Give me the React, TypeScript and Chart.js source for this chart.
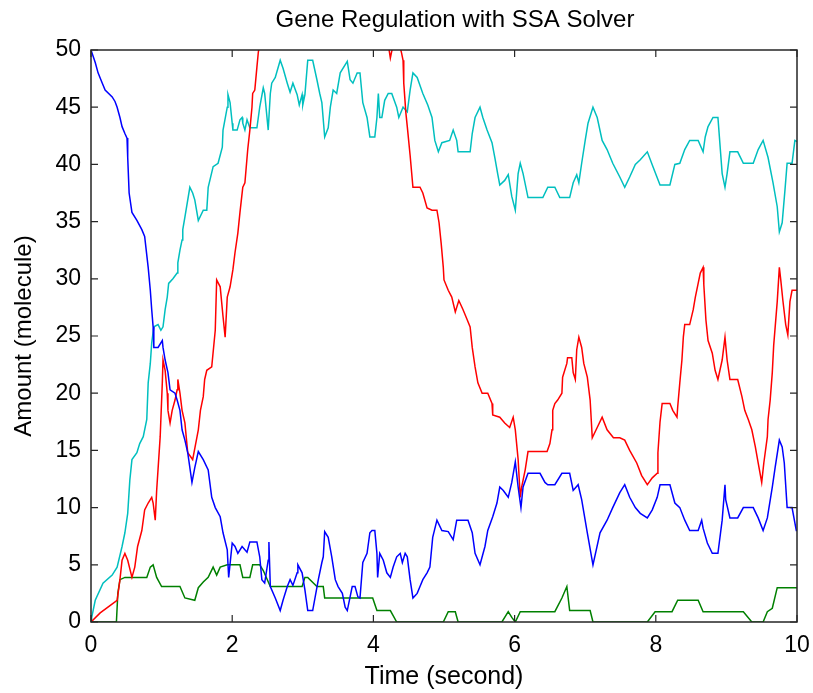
import React, { useEffect, useRef } from 'react';
import { Chart, registerables } from 'chart.js';
Chart.register(...registerables);

const TITLE = 'Gene Regulation with SSA Solver';
const X_LABEL = 'Time (second)';
const Y_LABEL = 'Amount (molecule)';
const X_TICKS = [0, 2, 4, 6, 8, 10];
const Y_TICKS = [0, 5, 10, 15, 20, 25, 30, 35, 40, 45, 50];

// [time, amount]
const blueSeries: number[][] = [
  [0,50],[0.06,48.9],[0.10,48],[0.16,47.1],[0.20,46.5],[0.30,45.9],[0.34,45.5],[0.37,45],[0.41,44.1],[0.44,43.3],
  [0.48,42.7],[0.51,42.3],[0.52,40.6],[0.54,37.5],[0.58,35.8],[0.65,35.1],[0.72,34.3],[0.76,33.7],[0.81,31],[0.84,29],
  [0.86,27.3],[0.88,25.8],[0.89,24],[0.95,24],[1.01,24.6],[1.02,24],[1.05,22.9],[1.09,21.8],[1.12,20.3],[1.19,20],
  [1.22,19.4],[1.26,18.5],[1.29,16.8],[1.33,15.9],[1.37,14.8],[1.43,12.2],[1.47,13.5],[1.52,14.9],[1.59,14.2],[1.66,13.3],
  [1.71,10.9],[1.76,10],[1.83,9.2],[1.87,7.8],[1.93,6.3],[1.95,3.9],[2.00,6.9],[2.04,6.6],[2.08,6],[2.14,6.6],
  [2.21,6.1],[2.25,7],[2.35,7],[2.39,5.7],[2.42,3.7],[2.46,3.4],[2.51,5.4],[2.52,7],[2.54,3.1],[2.61,2.1],
  [2.68,1],[2.72,1.9],[2.78,3.1],[2.82,3.7],[2.86,3.2],[2.92,4.3],[2.93,5],[2.99,4.3],[3.03,2.8],[3.07,1],
  [3.14,1],[3.22,3.7],[3.27,5.2],[3.29,5.7],[3.31,7.9],[3.36,7.4],[3.41,5.7],[3.46,3.7],[3.50,3.1],[3.56,2.5],
  [3.60,1.3],[3.63,1],[3.67,2.2],[3.70,3.1],[3.74,3.1],[3.78,2.2],[3.81,2.1],[3.85,5.2],[3.91,6],[3.95,7.8],
  [3.98,8],[4.02,8],[4.05,6],[4.06,3.9],[4.09,6],[4.14,5.4],[4.19,4.3],[4.24,3.9],[4.28,4.8],[4.33,5.7],
  [4.38,6],[4.41,5.2],[4.45,6],[4.48,5.7],[4.52,3.7],[4.56,2.1],[4.62,2.5],[4.66,3.1],[4.70,3.7],[4.76,4.3],
  [4.80,4.8],[4.84,7.4],[4.90,8.9],[4.97,8],[5.06,7.9],[5.13,7.2],[5.18,8.9],[5.34,8.9],[5.40,7.8],[5.44,6],
  [5.51,5],[5.58,6.6],[5.62,8],[5.69,9.2],[5.75,10.4],[5.79,11.8],[5.84,11.5],[5.91,10.9],[5.96,12.2],[6.01,14],
  [6.05,11.8],[6.09,10],[6.12,11.8],[6.19,13],[6.36,13],[6.43,12.2],[6.47,12],[6.57,12],[6.67,13],[6.78,13],
  [6.83,11.5],[6.90,12],[6.95,10.7],[7.03,7.8],[7.11,5],[7.21,7.8],[7.31,8.9],[7.39,10],[7.49,11.3],[7.56,12],
  [7.63,10.9],[7.71,10],[7.78,9.5],[7.88,9.1],[7.95,9.8],[8.02,10.9],[8.06,12],[8.20,12],[8.27,10.4],[8.34,10],
  [8.41,8.9],[8.48,8],[8.60,8],[8.65,8.9],[8.67,8.2],[8.73,6.9],[8.80,6],[8.88,6],[8.94,8.9],[8.98,12],
  [8.99,10.7],[9.05,9.1],[9.16,9.1],[9.24,10],[9.38,10],[9.45,9.1],[9.52,8],[9.58,9.1],[9.65,11.8],[9.69,13.5],
  [9.75,15.9],[9.79,15.3],[9.82,13.9],[9.86,10],[9.93,10],[9.99,8],[10,8]
];

const redSeries: number[][] = [
  [0,0],[0.13,0.8],[0.24,1.3],[0.37,1.9],[0.41,3.7],[0.44,5.4],[0.48,6],[0.52,5.4],[0.58,3.9],[0.62,4.8],
  [0.66,6.6],[0.72,8],[0.76,9.8],[0.81,10.4],[0.84,10.7],[0.86,10.9],[0.88,10.4],[0.91,8.9],[0.93,11.5],[0.98,16.2],
  [1.01,20.9],[1.02,22.9],[1.05,22],[1.08,20],[1.09,18.5],[1.12,17.4],[1.15,18.5],[1.19,19.4],[1.22,20.3],[1.23,21.2],
  [1.26,20],[1.29,18.5],[1.33,17.4],[1.37,14.8],[1.44,14.2],[1.52,16.8],[1.55,18.5],[1.59,19.7],[1.61,21.2],[1.64,22],
  [1.71,22.3],[1.76,25.5],[1.78,29.9],[1.83,29.3],[1.87,26.7],[1.90,24.9],[1.93,28.4],[1.97,29.3],[2.01,30.8],[2.04,32.3],
  [2.08,34],[2.11,35.8],[2.15,38],[2.18,38.4],[2.22,41.3],[2.25,43],[2.28,45],[2.29,46.2],[2.32,46.5],[2.35,48.5],
  [2.37,49.8],[2.45,53],[2.8,56],[3.3,58],[3.8,56],[4.1,52],[4.21,50.5],[4.24,49.3],[4.28,50.5],[4.35,51],
  [4.40,49.7],[4.42,49.1],[4.43,47.1],[4.46,44.5],[4.48,43.3],[4.52,40.8],[4.56,38],[4.66,38],[4.70,37.5],[4.76,36.2],
  [4.83,36],[4.90,36],[4.93,34.9],[4.96,33.1],[4.99,31],[5.00,29.9],[5.06,29],[5.11,28.4],[5.16,27.1],[5.21,28.1],
  [5.27,27.3],[5.33,26.4],[5.37,25.8],[5.40,24],[5.44,22.3],[5.48,20.9],[5.54,20],[5.62,20],[5.68,19.1],[5.69,18.1],
  [5.79,17.9],[5.86,17.4],[5.93,17],[5.98,17.9],[6.01,16.8],[6.05,14.2],[6.08,10.9],[6.10,11.8],[6.15,13.3],[6.19,14.9],
  [6.46,14.9],[6.50,15.6],[6.53,16.8],[6.54,18.5],[6.57,19.1],[6.61,19.4],[6.67,20],[6.68,21.4],[6.74,22.6],[6.75,23.1],
  [6.81,23.1],[6.83,21.8],[6.86,21.2],[6.88,23.8],[6.91,24.9],[6.95,24],[6.98,22.6],[7.03,21.4],[7.07,19.4],[7.10,16.1],
  [7.17,17],[7.24,17.9],[7.31,16.8],[7.40,16.1],[7.49,16.1],[7.56,15.9],[7.63,15],[7.73,13.9],[7.80,12.8],[7.88,12],
  [7.95,12.6],[8.02,13],[8.03,14.8],[8.06,17.5],[8.09,19.1],[8.20,19.1],[8.24,18.5],[8.30,17.9],[8.31,18.8],[8.34,20.9],
  [8.37,22.9],[8.39,24.9],[8.41,26],[8.48,26],[8.53,27.3],[8.56,28.4],[8.60,29.6],[8.63,30.5],[8.67,31],[8.68,29.5],
  [8.71,26.4],[8.74,24.6],[8.80,23.5],[8.84,22],[8.88,21.2],[8.94,22.9],[8.98,24.9],[9.01,22.9],[9.05,21.2],[9.16,21.2],
  [9.22,19.7],[9.26,18.5],[9.31,17.7],[9.36,16.8],[9.41,15.3],[9.45,13.9],[9.50,12.2],[9.53,13.9],[9.58,16.2],[9.59,17.7],
  [9.62,19.4],[9.65,21.8],[9.67,24.2],[9.72,28],[9.75,31],[9.77,29.9],[9.80,28.1],[9.84,26],[9.87,25.1],[9.90,28],
  [9.93,29],[10,29]
];

const cyanSeries: number[][] = [
  [0,0],[0.01,0.4],[0.06,1.9],[0.17,3.4],[0.30,4.1],[0.37,4.8],[0.44,6.6],[0.48,7.8],[0.52,9.5],[0.55,12.4],
  [0.58,14.2],[0.65,14.8],[0.69,15.6],[0.74,16.2],[0.79,17.7],[0.81,20.9],[0.84,22.6],[0.86,24.4],[0.89,25.8],[0.95,26],
  [0.99,25.5],[1.02,25.8],[1.05,27.3],[1.08,28.4],[1.10,29.6],[1.16,30],[1.22,30.5],[1.23,31.4],[1.26,32.5],[1.29,33.4],
  [1.30,34.3],[1.33,35.4],[1.40,38],[1.44,37.5],[1.47,36.9],[1.52,35.1],[1.59,36],[1.64,36],[1.66,38],[1.73,39.8],
  [1.80,40.1],[1.86,41.5],[1.87,43],[1.93,45],[1.94,46.1],[1.97,45.4],[2.00,43.6],[2.01,43],[2.07,43],[2.11,43.9],
  [2.14,44.1],[2.15,43.6],[2.18,43],[2.21,43.9],[2.25,43.2],[2.35,43.2],[2.39,45],[2.44,46.7],[2.46,46.2],[2.51,43],
  [2.54,46.2],[2.56,47.1],[2.61,47.6],[2.68,49.1],[2.72,48.4],[2.78,47.1],[2.82,46.3],[2.86,47.1],[2.92,46.1],[2.95,45.2],
  [2.99,46.1],[3.00,45.2],[3.03,46.1],[3.07,49.1],[3.14,49.1],[3.20,47.4],[3.24,46.2],[3.27,45.4],[3.31,42.4],[3.36,43.2],
  [3.39,45],[3.43,46.5],[3.48,46.2],[3.53,48],[3.63,49],[3.67,47.4],[3.71,47.1],[3.77,48],[3.81,48],[3.85,45.4],
  [3.91,44.1],[3.95,42.4],[4.02,42.4],[4.05,44.1],[4.07,46.2],[4.09,44.1],[4.12,44.1],[4.16,45.6],[4.21,46.2],[4.26,46.2],
  [4.33,45],[4.36,44.1],[4.42,45],[4.48,44.6],[4.52,46.5],[4.56,48],[4.62,47.6],[4.70,46.2],[4.77,45.2],[4.83,44.1],
  [4.87,42.1],[4.92,41.1],[4.97,41.9],[5.08,42.1],[5.13,43],[5.18,42.1],[5.20,41.1],[5.37,41.1],[5.40,42.7],[5.44,44.1],
  [5.51,45],[5.55,44.1],[5.61,43],[5.68,41.9],[5.72,40.6],[5.76,39.2],[5.79,38.2],[5.86,38.6],[5.91,39.1],[5.96,37.2],
  [6.01,36],[6.05,39.2],[6.08,40.1],[6.12,39.2],[6.19,37.1],[6.40,37.1],[6.47,38],[6.57,38],[6.64,37.1],[6.78,37.1],
  [6.83,38.4],[6.88,39.1],[6.91,38.4],[6.95,40.1],[7.00,42.1],[7.04,43.6],[7.11,45],[7.17,44.1],[7.24,42.1],[7.31,41.3],
  [7.39,40.1],[7.49,38.9],[7.56,38],[7.63,38.9],[7.71,40],[7.78,40.4],[7.88,41.1],[7.96,39.8],[8.06,38.2],[8.20,38.2],
  [8.27,40],[8.34,40.1],[8.41,41.3],[8.48,42.1],[8.60,42.1],[8.67,41.1],[8.70,42.4],[8.74,43.3],[8.81,44.1],[8.88,44.1],
  [8.94,39.2],[8.98,38],[9.01,39.2],[9.05,41.1],[9.16,41.1],[9.24,40.1],[9.38,40.1],[9.45,41.3],[9.52,42.1],[9.59,40.6],
  [9.66,38.4],[9.72,36.3],[9.75,34.1],[9.79,34.9],[9.83,37.8],[9.86,40.1],[9.93,40.1],[9.97,42.1],[10,42]
];

const greenSeries: number[][] = [
  [0,0],[0.36,0],[0.38,2.5],[0.41,3.7],[0.48,3.9],[0.79,3.9],[0.84,4.8],[0.88,5],[0.93,3.9],[1.00,3.1],
  [1.26,3.1],[1.33,2.1],[1.47,1.9],[1.52,3],[1.59,3.5],[1.66,3.9],[1.73,4.8],[1.78,4.1],[1.83,4.8],[1.93,5],
  [2.11,5],[2.15,3.9],[2.25,3.9],[2.29,5],[2.39,5],[2.44,4.5],[2.54,3.1],[2.99,3.1],[3.03,3.9],[3.07,3.9],
  [3.20,3.1],[3.29,3.1],[3.31,2.1],[3.99,2.1],[4.05,1],[4.24,1],[4.33,0],[4.99,0],[5.06,0.9],[5.16,0.9],
  [5.20,0],[5.82,0],[5.91,0.9],[5.96,0.4],[6.01,0],[6.08,0.9],[6.57,0.9],[6.67,2.1],[6.74,3.1],[6.78,1],
  [7.07,1],[7.11,0],[7.88,0],[7.99,0.9],[8.23,0.9],[8.31,1.9],[8.60,1.9],[8.67,0.9],[9.24,0.9],[9.36,0],
  [9.52,0],[9.58,0.9],[9.65,1.2],[9.72,3],[10,3]
];

const FONT = '"Liberation Sans", Arial, Helvetica, sans-serif';

const boxPlugin = {
  id: 'matlabBox',
  afterDatasetsDraw(chart: any) {
    const { ctx, chartArea: a, scales } = chart;
    const xs = scales.x, ys = scales.y;
    ctx.save();
    ctx.strokeStyle = '#262626';
    ctx.lineWidth = 1.5;
    ctx.strokeRect(a.left, a.top, a.right - a.left, a.bottom - a.top);
    ctx.lineWidth = 1.2;
    ctx.beginPath();
    const L = 7;
    X_TICKS.forEach((v) => {
      const px = xs.getPixelForValue(v);
      ctx.moveTo(px, a.bottom); ctx.lineTo(px, a.bottom - L);
      ctx.moveTo(px, a.top); ctx.lineTo(px, a.top + L);
    });
    Y_TICKS.forEach((v) => {
      const py = ys.getPixelForValue(v);
      ctx.moveTo(a.left, py); ctx.lineTo(a.left + L, py);
      ctx.moveTo(a.right, py); ctx.lineTo(a.right - L, py);
    });
    ctx.stroke();
    ctx.fillStyle = '#000';
    ctx.font = `24px ${FONT}`;
    ctx.textAlign = 'center';
    ctx.textBaseline = 'middle';
    ctx.fillText(TITLE, (a.left + a.right) / 2 + 11, 20);
    ctx.restore();
  },
};

const toXY = (s: number[][]) => s.map(([x, y]) => ({ x, y }));

export default function App() {
  const ref = useRef<HTMLCanvasElement>(null);
  useEffect(() => {
    document.body.style.margin = '0';
    const mk = (data: number[][], color: string) => ({
      data: toXY(data),
      borderColor: color,
      backgroundColor: color,
      borderWidth: 1.5,
      pointRadius: 0,
      tension: 0,
      fill: false,
    });
    const chart = new Chart(ref.current!, {
      type: 'line',
      data: {
        datasets: [
          mk(blueSeries, '#0000ff'),
          mk(redSeries, '#ff0000'),
          mk(cyanSeries, '#00bfbf'),
          mk(greenSeries, '#008000'),
        ],
      },
      options: {
        responsive: false,
        animation: false,
        events: [],
        layout: { padding: { top: 50, right: 16, left: 0, bottom: 0 } },
        plugins: { legend: { display: false }, tooltip: { enabled: false }, title: { display: false } },
        scales: {
          x: {
            type: 'linear',
            min: 0,
            max: 10,
            afterFit: (s: any) => { s.height = 71; s.paddingLeft = 0; s.paddingRight = 0; },
            afterBuildTicks: (s: any) => { s.ticks = X_TICKS.map((v) => ({ value: v })); },
            ticks: { color: '#000', font: { size: 23, family: FONT }, padding: 10, maxRotation: 0 },
            grid: { display: false, drawTicks: false },
            border: { display: false },
            title: { display: true, text: X_LABEL, color: '#000', font: { size: 25, family: FONT }, padding: { top: 0, bottom: 1 } },
          },
          y: {
            type: 'linear',
            min: 0,
            max: 50,
            afterFit: (s: any) => { s.width = 91; s.paddingTop = 0; s.paddingBottom = 0; },
            afterBuildTicks: (s: any) => { s.ticks = Y_TICKS.map((v) => ({ value: v })); },
            ticks: { color: '#000', font: { size: 23, family: FONT }, padding: 10 },
            grid: { display: false, drawTicks: false },
            border: { display: false },
            title: { display: true, text: Y_LABEL, color: '#000', font: { size: 24, family: FONT }, padding: { top: 10, bottom: 0 } },
          },
        },
      },
      plugins: [boxPlugin],
    } as any);
    return () => chart.destroy();
  }, []);
  return (
    <div style={{ width: 813, height: 693, background: '#fff' }}>
      <canvas ref={ref} width={813} height={693} style={{ display: 'block' }} />
    </div>
  );
}
